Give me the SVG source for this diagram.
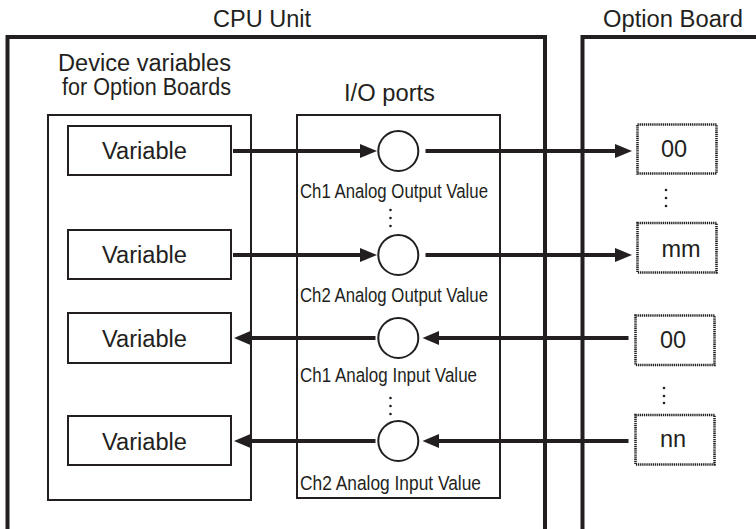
<svg xmlns="http://www.w3.org/2000/svg" width="756" height="529" viewBox="0 0 756 529">
<style>
text{font-family:"Liberation Sans",Arial,sans-serif;fill:#231f20;font-size:23.5px}
.lbl{font-size:20.5px}
.frame{fill:none;stroke:#231f20;stroke-width:4}
.box{fill:none;stroke:#231f20;stroke-width:2}
.dot{fill:none;stroke:#231f20;stroke-width:2.6;stroke-dasharray:1.3 0.8}
.port{fill:#fff;stroke:#231f20;stroke-width:2}
.ln{stroke:#231f20;stroke-width:4;fill:none}
.ah{fill:#231f20}
.el{fill:#231f20}
</style>
<rect width="756" height="529" fill="#fff"/>
<g id="cpu-unit">
<path class="frame" d="M7.5 531V37H545V531"/>
<text x="213" y="27" textLength="98" lengthAdjust="spacingAndGlyphs">CPU Unit</text>
</g>
<g id="option-board">
<path class="frame" d="M582.5 531V37H760"/>
<text x="603" y="26.7" textLength="140" lengthAdjust="spacingAndGlyphs">Option Board</text>
</g>
<g id="device-variables">
<rect class="box" x="48" y="115" width="203" height="385"/>
<text x="58" y="70.7" textLength="173" lengthAdjust="spacingAndGlyphs">Device variables</text>
<text x="62" y="95" textLength="169" lengthAdjust="spacingAndGlyphs">for Option Boards</text>
</g>
<g id="var1"><rect class="box" x="68" y="126" width="163" height="49"/><text x="102" y="159.3" textLength="85" lengthAdjust="spacingAndGlyphs">Variable</text></g>
<g id="var2"><rect class="box" x="68" y="230" width="163" height="49"/><text x="102" y="263.3" textLength="85" lengthAdjust="spacingAndGlyphs">Variable</text></g>
<g id="var3"><rect class="box" x="68" y="313" width="163" height="50"/><text x="102" y="346.7" textLength="85" lengthAdjust="spacingAndGlyphs">Variable</text></g>
<g id="var4"><rect class="box" x="68" y="416" width="163" height="49"/><text x="102" y="449.5" textLength="85" lengthAdjust="spacingAndGlyphs">Variable</text></g>
<g id="io-ports">
<rect class="box" x="297" y="115" width="203" height="383"/>
<text x="344" y="100.7" textLength="91" lengthAdjust="spacingAndGlyphs">I/O ports</text>
<circle class="el" cx="390.5" cy="210" r="1.3"/><circle class="el" cx="390.5" cy="218" r="1.3"/><circle class="el" cx="390.5" cy="226" r="1.3"/>
<circle class="el" cx="390.5" cy="398" r="1.3"/><circle class="el" cx="390.5" cy="406" r="1.3"/><circle class="el" cx="390.5" cy="414" r="1.3"/>
</g>
<g id="connectors">
<line class="ln" x1="233" y1="151" x2="362" y2="151"/><path class="ah" d="M360 144L377 151L360 158Z"/>
<line class="ln" x1="425.5" y1="151" x2="617" y2="151"/><path class="ah" d="M615 144L632 151L615 158Z"/>
<line class="ln" x1="233" y1="255" x2="362" y2="255"/><path class="ah" d="M360 248L377 255L360 262Z"/>
<line class="ln" x1="425.5" y1="255" x2="617" y2="255"/><path class="ah" d="M615 248L632 255L615 262Z"/>
<line class="ln" x1="628.5" y1="338" x2="437" y2="338"/><path class="ah" d="M439 331L422.5 338L439 345Z"/>
<line class="ln" x1="375.5" y1="338" x2="248" y2="338"/><path class="ah" d="M250.5 331L234 338L250.5 345Z"/>
<line class="ln" x1="628.5" y1="441" x2="437" y2="441"/><path class="ah" d="M439 434L422.5 441L439 448Z"/>
<line class="ln" x1="375.5" y1="441" x2="248" y2="441"/><path class="ah" d="M250.5 434L234 441L250.5 448Z"/>
</g>
<g id="port-ch1-out"><circle class="port" cx="398.3" cy="151" r="20"/><text class="lbl" x="300" y="197.7" textLength="188" lengthAdjust="spacingAndGlyphs">Ch1 Analog Output Value</text></g>
<g id="port-ch2-out"><circle class="port" cx="398.3" cy="255" r="20"/><text class="lbl" x="300" y="301.5" textLength="188" lengthAdjust="spacingAndGlyphs">Ch2 Analog Output Value</text></g>
<g id="port-ch1-in"><circle class="port" cx="398.3" cy="338" r="20"/><text class="lbl" x="300" y="381.7" textLength="177" lengthAdjust="spacingAndGlyphs">Ch1 Analog Input Value</text></g>
<g id="port-ch2-in"><circle class="port" cx="398.3" cy="441" r="20"/><text class="lbl" x="300" y="490" textLength="181" lengthAdjust="spacingAndGlyphs">Ch2 Analog Input Value</text></g>
<g id="ob-00-out"><rect class="dot" x="637.5" y="124.5" width="79" height="49"/><text x="674" y="156.7" text-anchor="middle">00</text></g>
<g id="ob-mm"><rect class="dot" x="637.5" y="223" width="79" height="49.5"/><text x="681" y="256.7" text-anchor="middle">mm</text></g>
<g id="ob-00-in"><rect class="dot" x="635.5" y="315.5" width="79" height="49.5"/><text x="673" y="348.3" text-anchor="middle">00</text></g>
<g id="ob-nn"><rect class="dot" x="635.5" y="415" width="79" height="49.5"/><text x="673" y="447.3" text-anchor="middle">nn</text></g>
<g id="ob-ellipses">
<circle class="el" cx="666" cy="190" r="1.3"/><circle class="el" cx="666" cy="198" r="1.3"/><circle class="el" cx="666" cy="206" r="1.3"/>
<circle class="el" cx="664" cy="388" r="1.3"/><circle class="el" cx="664" cy="396" r="1.3"/><circle class="el" cx="664" cy="403" r="1.3"/>
</g>
</svg>
